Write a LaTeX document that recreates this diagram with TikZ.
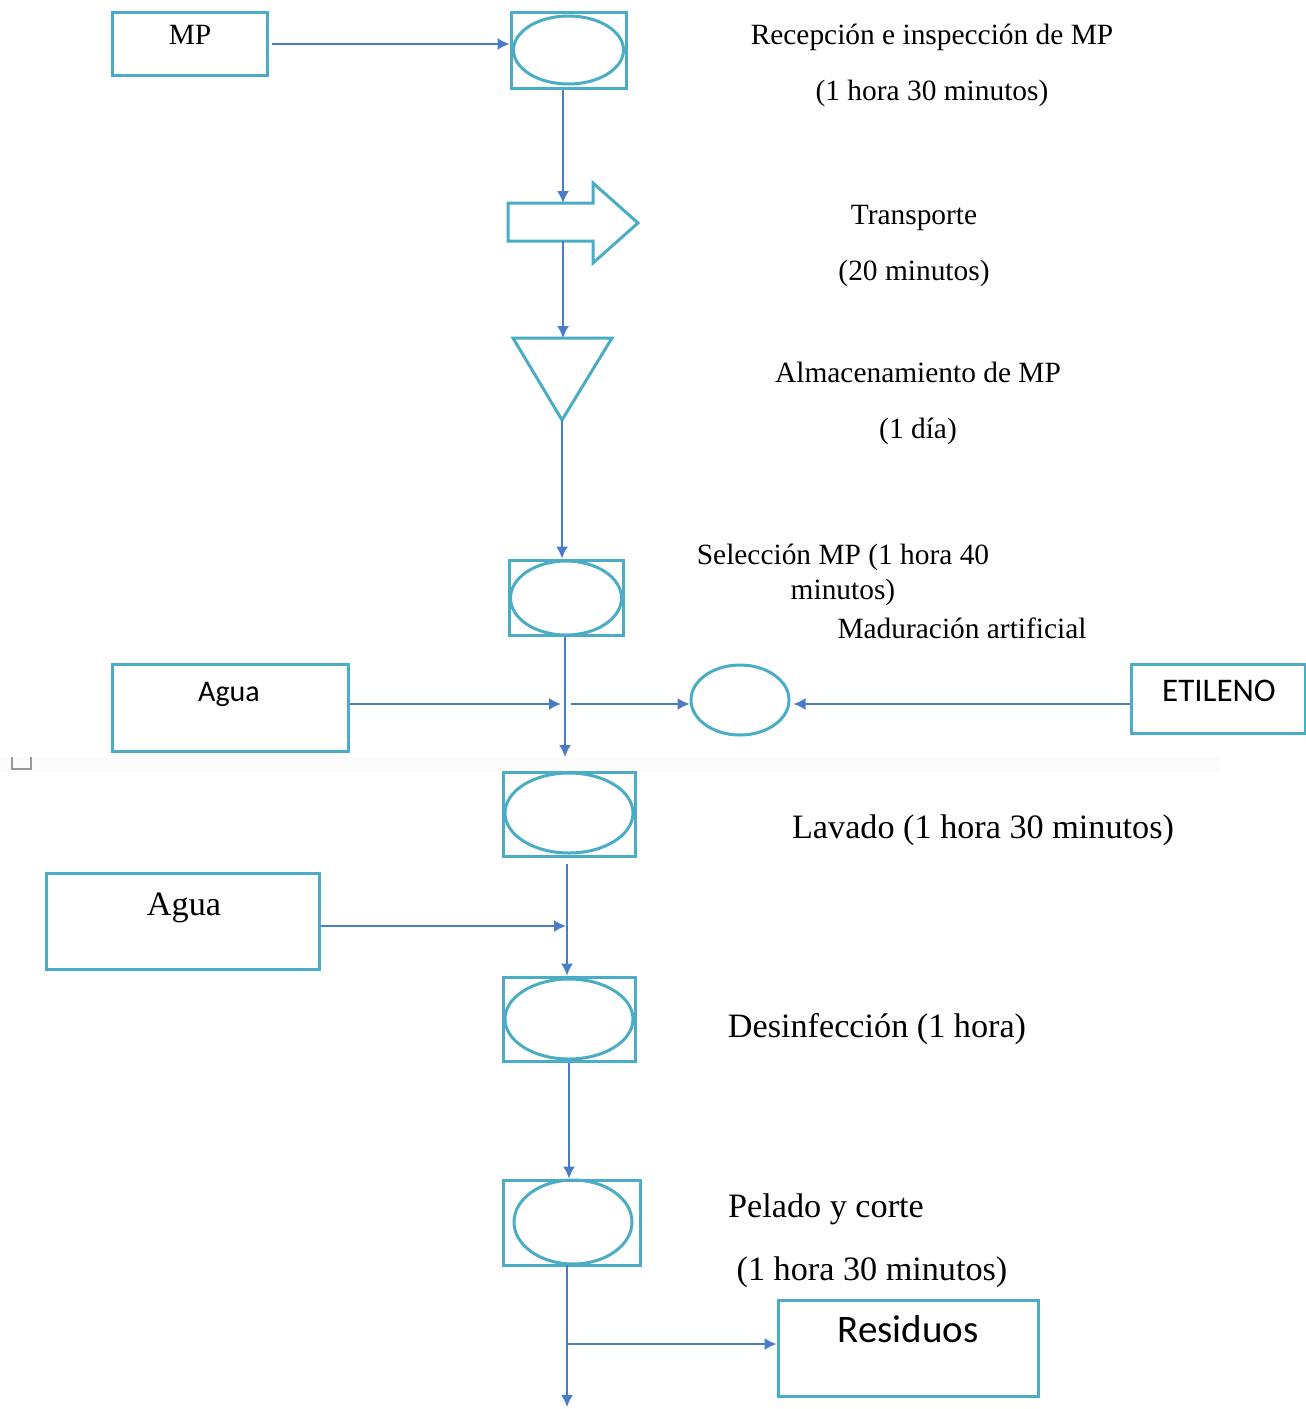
\documentclass[tikz,border=0pt]{standalone}
\usepackage{fontspec}
\setmainfont{Liberation Serif}
\newfontfamily\calib{Carlito}
\usetikzlibrary{arrows.meta,calc}
\definecolor{boxc}{HTML}{4BACC6}
\definecolor{arrc}{HTML}{4A7CC8}
\tikzset{
  box/.style={draw=boxc, line width=1.5pt, rectangle, inner sep=0pt, fill=white},
  ell/.style={draw=boxc, line width=1.5pt, ellipse, inner sep=0pt},
  arr/.style={draw=arrc, line width=0.8pt, -{Latex[length=6pt,width=6pt]}},
  ln/.style={draw=arrc, line width=0.8pt},
  ts/.style={font=\fontsize{14.7pt}{17pt}\selectfont, anchor=base, inner sep=0pt},
  tl/.style={font=\fontsize{17.1pt}{20pt}\selectfont, anchor=base, inner sep=0pt},
  tsans/.style={anchor=base, inner sep=0pt}
}
\usetikzlibrary{shapes.geometric}
\begin{document}
\begin{tikzpicture}[x=0.5pt,y=-0.5pt]
\useasboundingbox (0,0) rectangle (1306,1409);
\fill[white] (0,0) rectangle (1306,1409);
% faint page-break band
\fill[black!1.5] (0,757) rectangle (1220,772);
\draw[black!40, line width=0.6pt] (12,757) -- (12,769) -- (31,769) -- (31,757);

% boxes
\node[box, minimum width=77.5pt, minimum height=31.5pt] (mp) at (189.5,43.5) {};
\node[box, minimum width=57.5pt, minimum height=38pt] (rec) at (568.5,50) {};
\node[ell, minimum width=55pt, minimum height=34pt] (rece) at (568.5,50) {};

% transport arrow shape
\draw[draw=boxc, line width=1.5pt, fill=white] (508,203) -- (593,203) -- (593,183) -- (638,223) -- (593,263) -- (593,241) -- (508,241) -- cycle;
\coordinate (trtop) at (563,203);
\coordinate (trbot) at (563,241);

% storage triangle
\draw[draw=boxc, line width=1.5pt, fill=white] (513,338) -- (612,338) -- (562,420) -- cycle;
\coordinate (tritop) at (563,338);
\coordinate (triapex) at (562,420);

\node[box, minimum width=57pt, minimum height=37.5pt] (sel) at (566,597.5) {};
\node[ell, minimum width=55.5pt, minimum height=37pt] (sele) at (566,598) {};

\node[box, minimum width=118pt, minimum height=43.5pt] (agua1) at (230,707.5) {};
\node[ell, minimum width=49pt, minimum height=35pt] (circ) at (740,700) {};
\node[box, minimum width=87pt, minimum height=34.5pt] (etil) at (1218,698.5) {};

\node[box, minimum width=66pt, minimum height=42pt] (lav) at (569,814) {};
\node[ell, minimum width=64pt, minimum height=40pt] (lave) at (569,813) {};

\node[box, minimum width=136.5pt, minimum height=48pt] (agua2) at (182.5,921) {};

\node[box, minimum width=66pt, minimum height=42pt] (des) at (569,1019) {};
\node[ell, minimum width=64pt, minimum height=40pt] (dese) at (569,1019) {};

\node[box, minimum width=68.5pt, minimum height=42.5pt] (pel) at (571.5,1222.5) {};
\node[ell, minimum width=59pt, minimum height=42pt] (pele) at (573,1222) {};

\node[box, minimum width=130pt, minimum height=48pt] (res) at (908,1348) {};

% texts in boxes
\node[ts] (tmp) at (190,44) {MP};
\node[tsans, font=\calib\fontsize{15pt}{18pt}\selectfont] (ta1) at (229,701) {Agua};
\node[tsans, font=\calib\fontsize{16.5pt}{19pt}\selectfont] (tet) at (1219,701) {ETILENO};
\node[tl] (ta2) at (184,915) {Agua};
\node[tsans, font=\calib\fontsize{19.5pt}{22pt}\selectfont] (tres) at (908,1342) {Residuos};

% labels
\node[ts] (l1a) at (932,44) {Recepción e inspección de MP};
\node[ts] (l1b) at (932,100) {(1 hora 30 minutos)};
\node[ts] (l2a) at (914,224) {Transporte};
\node[ts] (l2b) at (914,280) {(20 minutos)};
\node[ts] (l3a) at (918,382) {Almacenamiento de MP};
\node[ts] (l3b) at (918,438) {(1 día)};
\node[ts] (l4a) at (843,564) {Selección MP (1 hora 40};
\node[ts] (l4b) at (843,599) {minutos)};
\node[ts] (l5) at (962,638) {Maduración artificial};
\node[tl] (l6) at (983,838) {Lavado (1 hora 30 minutos)};
\node[tl] (l7) at (877,1037) {Desinfección (1 hora)};
\node[tl] (l8a) at (826,1217) {Pelado y corte};
\node[tl] (l8b) at (872,1280) {(1 hora 30 minutos)};

% connectors
\coordinate (mpin) at (272,44);
\draw[arr] (mpin) -- (mpin -| rec.west);
\draw[arr] (rec.south -| trtop) -- (trtop);
\draw[arr] (trbot) -- (tritop);
\draw[arr] (triapex) -- (triapex |- sel.north);
\coordinate (selout) at (565,757);
\draw[arr] (sel.south -| selout) -- (selout);
\coordinate (j1) at (561,704);
\coordinate (j2) at (571,704);
\draw[arr] (agua1.east |- j1) -- (j1);
\draw[arr] (j2) -- (j2 -| circ.west);
\draw[arr] (j2 -| etil.west) -- ([xshift=1.5pt]j2 -| circ.east);
\coordinate (lavx) at (567,864);
\draw[arr] (lavx) -- (lavx |- des.north);
\coordinate (j3) at (566,926);
\draw[arr] (agua2.east |- j3) -- (j3);
\draw[arr] (des.south) -- (des.south |- pel.north);
\coordinate (pelx) at (567,1265);
\coordinate (endc) at (567,1407);
\coordinate (br) at (567,1344);
\draw[arr] (pelx) -- (endc);
\draw[arr] (br) -- (br -| res.west);
\end{tikzpicture}
\end{document}
